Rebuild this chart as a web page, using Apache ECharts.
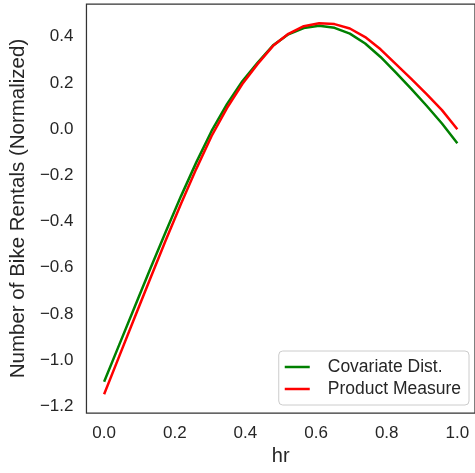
<!DOCTYPE html>
<html>
<head>
<meta charset="utf-8">
<script src="https://cdn.jsdelivr.net/npm/echarts@6/dist/echarts.min.js"></script>
<style>
html,body{margin:0;padding:0;background:#fff;}
#chart{width:475px;height:473px;}
</style>
</head>
<body>
<div id="chart"></div>
<script>
var hrValues = [0, 0.0435, 0.087, 0.1304, 0.1739, 0.2174, 0.2609, 0.3043, 0.3478, 0.3913, 0.4348, 0.4783, 0.5217, 0.5652, 0.6087, 0.6522, 0.6957, 0.7391, 0.7826, 0.8261, 0.8696, 0.913, 0.9565, 1.0];
var covariateDist = [-1.093, -0.930, -0.767, -0.605, -0.446, -0.291, -0.144, -0.008, 0.108, 0.207, 0.288, 0.362, 0.410, 0.437, 0.447, 0.438, 0.413, 0.370, 0.312, 0.244, 0.174, 0.101, 0.024, -0.061];
var productMeasure = [-1.147, -0.980, -0.813, -0.647, -0.483, -0.324, -0.172, -0.030, 0.091, 0.195, 0.282, 0.360, 0.412, 0.445, 0.458, 0.454, 0.435, 0.398, 0.345, 0.281, 0.217, 0.151, 0.082, -0.001];
var xTicks = [0.0, 0.2, 0.4, 0.6, 0.8, 1.0];
var yTicks = [-1.2, -1.0, -0.8, -0.6, -0.4, -0.2, 0.0, 0.2, 0.4];
var seriesNames = ['Covariate Dist.', 'Product Measure'];
var xName = 'hr';
var yName = 'Number of Bike Rentals (Normalized)';

function pairs(xs, ys) { return xs.map(function (x, i) { return [x, ys[i]]; }); }
var FONT = "'Liberation Sans', Arial, sans-serif";
var TXT = '#262626';

var chart = echarts.init(document.getElementById('chart'), null, {renderer: 'canvas'});
chart.setOption({
  animation: false,
  backgroundColor: '#ffffff',
  textStyle: {fontFamily: FONT},
  grid: {left: 86, top: 4, width: 390, height: 409, show: true, borderColor: '#333333', borderWidth: 1.25, backgroundColor: 'transparent'},
  xAxis: {
    type: 'value', min: -0.05, max: 1.05,
    name: xName, nameLocation: 'middle', nameGap: 31,
    nameTextStyle: {fontFamily: FONT, fontSize: 20, color: TXT},
    axisLine: {show: false}, axisTick: {show: false}, splitLine: {show: false},
    axisLabel: {customValues: xTicks, margin: 12, fontFamily: FONT, fontSize: 17, color: TXT,
      formatter: function (v) { return v.toFixed(1); }}
  },
  yAxis: {
    type: 'value', min: -1.228, max: 0.541,
    name: yName, nameLocation: 'middle', nameGap: 51, nameRotate: 90,
    nameTextStyle: {fontFamily: FONT, fontSize: 20.5, color: TXT},
    axisLine: {show: false}, axisTick: {show: false}, splitLine: {show: false},
    axisLabel: {customValues: yTicks, margin: 13, fontFamily: FONT, fontSize: 17, color: TXT,
      formatter: function (v) { return (v < 0 ? '\u2212' + Math.abs(v).toFixed(1) : v.toFixed(1)); }}
  },
  legend: {
    orient: 'vertical', right: 6, bottom: 68,
    data: seriesNames,
    backgroundColor: '#ffffff', borderColor: '#cccccc', borderWidth: 1, borderRadius: 4,
    padding: [7, 8, 7, 6], itemGap: 4, itemWidth: 37, itemHeight: 2.5,
    icon: 'path://M0,0 L10,0 L10,1 L0,1 Z',
    textStyle: {fontFamily: FONT, fontSize: 17.5, color: TXT, padding: [0, 0, 0, 7]}
  },
  series: [
    {name: seriesNames[0], type: 'line', data: pairs(hrValues, covariateDist), showSymbol: false,
      lineStyle: {color: '#008000', width: 2.5}, itemStyle: {color: '#008000'}, z: 2},
    {name: seriesNames[1], type: 'line', data: pairs(hrValues, productMeasure), showSymbol: false,
      lineStyle: {color: '#ff0000', width: 2.5}, itemStyle: {color: '#ff0000'}, z: 3}
  ]
});
</script>
</body>
</html>
